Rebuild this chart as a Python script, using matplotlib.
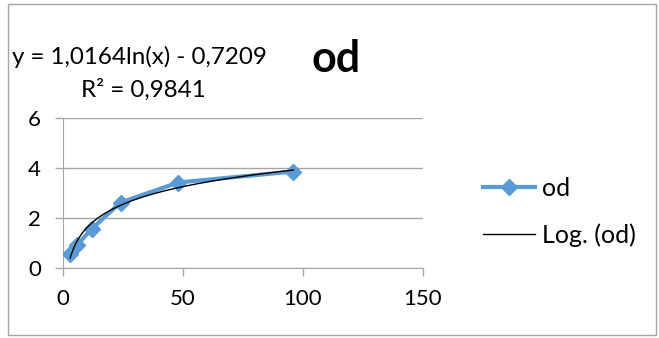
import numpy as np
import matplotlib
matplotlib.use("Agg")
import matplotlib.pyplot as plt
from matplotlib.patches import Rectangle

plt.rcParams['font.family'] = ['Lato', 'DejaVu Sans']

x_vals = [3, 6, 12, 24, 48, 96]
od = [0.56, 0.93, 1.57, 2.62, 3.42, 3.86]
slope = 1.0164
intercept = -0.7209
r2 = 0.9841
x_ticks = [0, 50, 100, 150]
y_ticks = [0, 2, 4, 6]

W, H = 659, 338
fig = plt.figure(figsize=(W/100, H/100), dpi=100)
fig.patches.append(Rectangle((8/W, 3/H), 648/W, 331/H, transform=fig.transFigure,
                             fill=False, edgecolor='#a6a6a6', linewidth=1))
ax = fig.add_axes([63/W, 1-268/H, 360/W, 150/H])

xs = np.linspace(min(x_vals), max(x_vals), 300)
ax.plot(x_vals, od, color='#5B9BD5', linewidth=3, marker='D', markersize=8.5,
        label='od', zorder=3)
ax.plot(xs, slope*np.log(xs) + intercept, color='black', linewidth=1,
        label='Log. (od)', zorder=4)

ax.set_xlim(0, 150)
ax.set_ylim(0, 6)
ax.set_xticks(x_ticks)
ax.set_yticks(y_ticks)
ax.grid(axis='y', color='#a6a6a6', linewidth=1)
ax.set_axisbelow(True)
for s in ['top', 'right']:
    ax.spines[s].set_visible(False)
for s in ['left', 'bottom']:
    ax.spines[s].set_color('#a6a6a6')
ax.tick_params(axis='both', colors='#a6a6a6', labelcolor='black', labelsize=16,
               length=5.8, width=1)
ax.tick_params(axis='x', pad=9)
ax.tick_params(axis='y', pad=10)

leg = fig.legend(loc='center left', bbox_to_anchor=(483/W, 1-212/H), frameon=False,
                 borderpad=0, fontsize=18, handlelength=2.08, labelspacing=0.95,
                 handletextpad=0.28, borderaxespad=0)

fig.text(12/W, 1-64/H, 'y = 1,0164ln(x) - 0,7209', fontsize=17.4, va='baseline', ha='left')
fig.text(143/W, 1-97/H, 'R² = 0,9841', fontsize=17.4, va='baseline', ha='center')
fig.text(336/W, 1-72/H, 'od', fontsize=31, fontweight='bold', va='baseline', ha='center')

fig.savefig('out.png', dpi=100)
